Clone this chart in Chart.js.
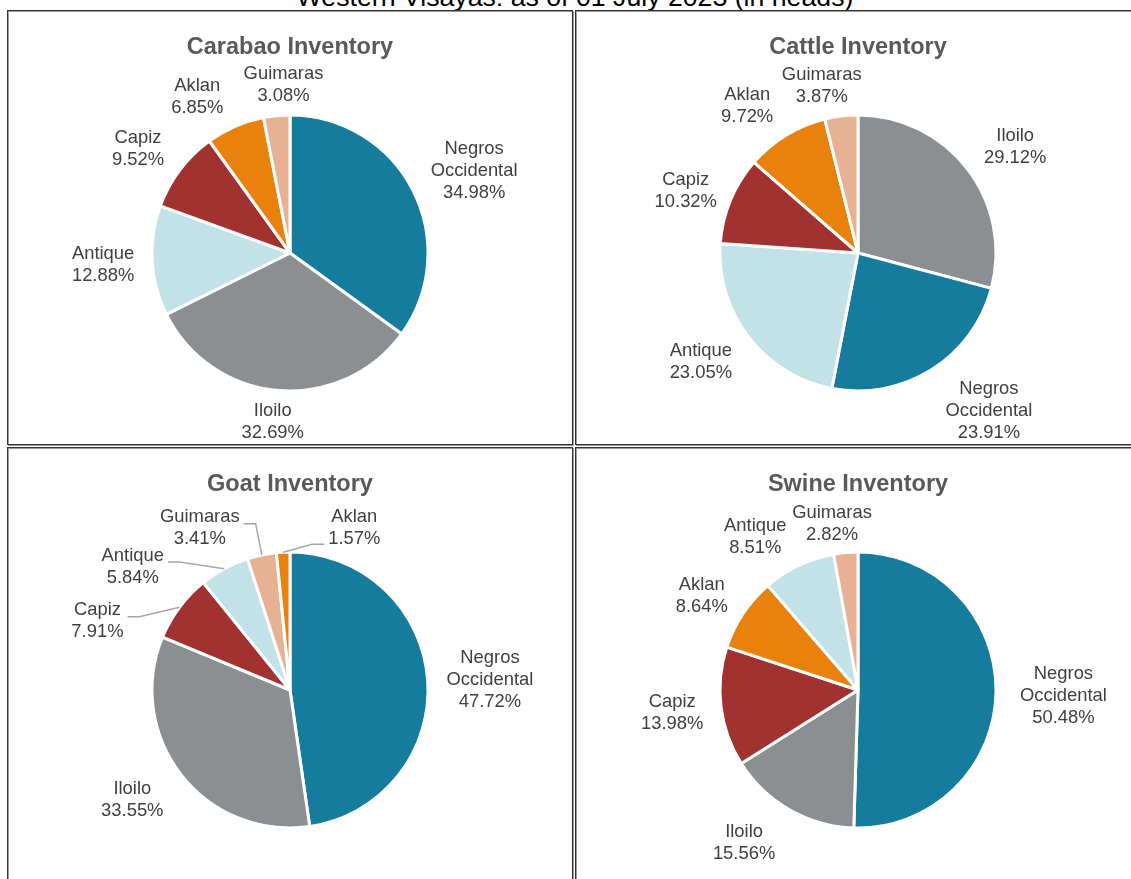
<!DOCTYPE html>
<html>
<head>
<meta charset="utf-8">
<script src="https://cdn.jsdelivr.net/npm/chart.js@4.4.1/dist/chart.umd.min.js"></script>
<style>
  html, body { margin: 0; padding: 0; background: #fff; overflow: hidden; }
  body { width: 1131px; height: 879px; position: relative; font-family: "Liberation Sans", Arial, sans-serif; }
  #mainTitle { position: absolute; left: 0; width: 1150px; top: -16px; text-align: center;
               font-size: 26.7px; line-height: 26px; color: #000; white-space: nowrap; }
  .panel { position: absolute; border: 1px solid #333; background: #fff; width: 564px;
           box-shadow: inset 1px 1px 0 #9a9a9a, 1px 1px 0 #9a9a9a; }
  .panel canvas { display: block; }
</style>
</head>
<body>
<div id="mainTitle">Western Visayas: as of 01 July 2023 (in heads)</div>
<div class="panel" style="left:7px; top:10px; height:433px;"><canvas id="carabao" width="564" height="433"></canvas></div>
<div class="panel" style="left:575px; top:10px; height:433px;"><canvas id="cattle" width="564" height="433"></canvas></div>
<div class="panel" style="left:7px; top:447px; height:440px;"><canvas id="goat" width="564" height="433"></canvas></div>
<div class="panel" style="left:575px; top:447px; height:440px;"><canvas id="swine" width="564" height="433"></canvas></div>

<script>
'use strict';

// ---- data (share of regional inventory, %) ----
var carabaoLabels = ['Negros Occidental', 'Iloilo', 'Antique', 'Capiz', 'Aklan', 'Guimaras'];
var carabaoShares = [34.98, 32.69, 12.88, 9.52, 6.85, 3.08];

var cattleLabels = ['Iloilo', 'Negros Occidental', 'Antique', 'Capiz', 'Aklan', 'Guimaras'];
var cattleShares = [29.12, 23.91, 23.05, 10.32, 9.72, 3.87];

var goatLabels = ['Negros Occidental', 'Iloilo', 'Capiz', 'Antique', 'Guimaras', 'Aklan'];
var goatShares = [47.72, 33.55, 7.91, 5.84, 3.41, 1.57];

var swineLabels = ['Negros Occidental', 'Iloilo', 'Capiz', 'Aklan', 'Antique', 'Guimaras'];
var swineShares = [50.48, 15.56, 13.98, 8.64, 8.51, 2.82];

// ---- styling ----
var PROVINCE_COLORS = {
    'Negros Occidental': '#157C9D',
    'Iloilo': '#8B8F92',
    'Antique': '#C3E2E8',
    'Capiz': '#A13230',
    'Aklan': '#E8820C',
    'Guimaras': '#E6B293'
};
var FONT = '"Liberation Sans", Arial, sans-serif';

// small label nudges (px) on top of the automatic outside placement
var carabaoNudge = [[10, 2], [-2, -4], [-4, 2], [-10, 1], [-22, 4], [12, 5]];
var cattleNudge = [[12, 0], [27, 1], [-12, 3], [-3, 4], [-18, 1], [-13, 6]];
var goatNudge = [[5, 3], [-13, 3], [-50, 35], [-70, 30], [-51, 8], [73, 12]];
var swineNudge = [[10, 3], [-23, 2], [-4, 2], [-8, 2], [-24, 4], [-9, 7]];
var goatLeaders = [false, false, true, true, true, true];
var goatLeaderDy = [0, 0, -4, -5, -4, 16];

// draws "Name / xx.xx%" labels just outside each slice
var outsideLabels = {
    id: 'outsideLabels',
    afterDatasetsDraw: function (chart, args, opts) {
        var ctx = chart.ctx;
        var meta = chart.getDatasetMeta(0);
        var labels = chart.data.labels;
        var values = chart.data.datasets[0].data;
        var lineH = 22;
        var gap = 14;
        ctx.save();
        ctx.font = '18.4px ' + FONT;
        ctx.textAlign = 'center';
        ctx.textBaseline = 'middle';
        meta.data.forEach(function (arc, i) {
            var p = arc.getProps(['x', 'y', 'startAngle', 'endAngle', 'outerRadius'], true);
            var mid = (p.startAngle + p.endAngle) / 2;
            var dx = Math.cos(mid), dy = Math.sin(mid);
            var lines = labels[i].split(' ').concat([values[i].toFixed(2) + '%']);
            var w = 0;
            lines.forEach(function (l) { w = Math.max(w, ctx.measureText(l).width); });
            var h = lines.length * lineH;
            var nudge = (opts.nudge && opts.nudge[i]) || [0, 0];
            var cx = p.x + dx * (p.outerRadius + gap) + dx * w / 2 + nudge[0];
            var cy = p.y + dy * (p.outerRadius + gap) + dy * h / 2 + nudge[1];

            if (opts.leaders && opts.leaders[i]) {
                var ax = p.x + dx * p.outerRadius;
                var ay = p.y + dy * p.outerRadius;
                var left = cx < p.x;
                var sx = left ? cx + w / 2 + 4 : cx - w / 2 - 4;
                var sy = cy + ((opts.leaderDy && opts.leaderDy[i]) || 0);
                ctx.beginPath();
                ctx.moveTo(sx, sy);
                ctx.lineTo(sx + (left ? 12 : -12), sy);
                ctx.lineTo(ax, ay);
                ctx.strokeStyle = '#A6A6A6';
                ctx.lineWidth = 1.5;
                ctx.stroke();
            }

            ctx.fillStyle = '#404040';
            lines.forEach(function (l, k) {
                ctx.fillText(l, cx, cy - h / 2 + lineH * (k + 0.5));
            });
        });
        ctx.restore();
    }
};

function makePie(id, title, labels, shares, nudge, leaders, leaderDy) {
    var ctx = document.getElementById(id).getContext('2d');
    return new Chart(ctx, {
        type: 'pie',
        data: {
            labels: labels,
            datasets: [{
                data: shares,
                backgroundColor: labels.map(function (l) { return PROVINCE_COLORS[l]; }),
                borderColor: '#ffffff',
                borderWidth: 3
            }]
        },
        options: {
            responsive: false,
            animation: false,
            events: [],
            radius: 138,
            layout: { padding: 0 },
            plugins: {
                legend: { display: false },
                tooltip: { enabled: false },
                title: {
                    display: true,
                    text: title,
                    color: '#595959',
                    font: { family: FONT, size: 23.5, weight: 'bold' },
                    lineHeight: 1.2,
                    padding: { top: 22, bottom: 0.8 }
                },
                outsideLabels: { nudge: nudge, leaders: leaders, leaderDy: leaderDy }
            }
        },
        plugins: [outsideLabels]
    });
}

makePie('carabao', 'Carabao Inventory', carabaoLabels, carabaoShares, carabaoNudge, null, null);
makePie('cattle', 'Cattle Inventory', cattleLabels, cattleShares, cattleNudge, null, null);
makePie('goat', 'Goat Inventory', goatLabels, goatShares, goatNudge, goatLeaders, goatLeaderDy);
makePie('swine', 'Swine Inventory', swineLabels, swineShares, swineNudge, null, null);
</script>
</body>
</html>
